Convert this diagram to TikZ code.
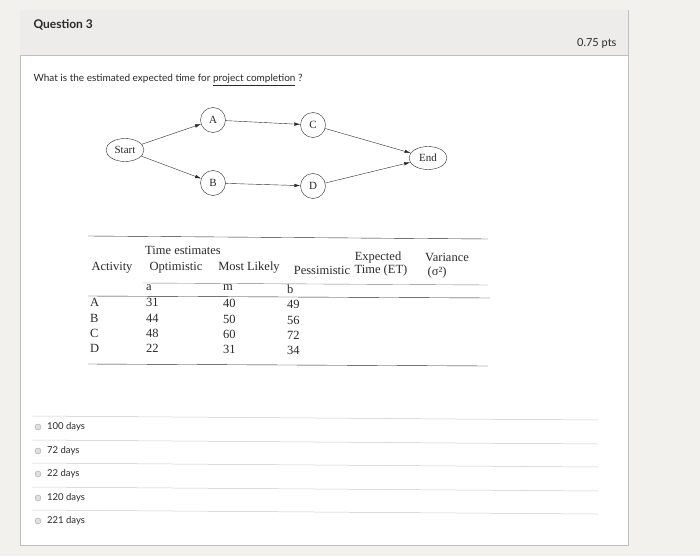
\documentclass[tikz,border=0pt]{standalone}
\usepackage{fontspec}
\setmainfont{Lato}
\newfontfamily\tms{Liberation Serif}
\usetikzlibrary{shapes.geometric,arrows.meta}
\definecolor{bg}{HTML}{F2F1EE}
\definecolor{hdr}{HTML}{EDECEA}
\definecolor{txt}{HTML}{2A2A2A}
\begin{document}
\begin{tikzpicture}[x=1pt,y=-1pt,
 ev/.style={draw=txt,circle,minimum size=25pt,inner sep=0pt,font=\tms\fontsize{11}{11}\selectfont,text=txt},
 eel/.style={draw=txt,ellipse,minimum width=38pt,minimum height=23pt,inner sep=0pt,font=\tms\fontsize{11}{11}\selectfont,text=txt},
 arr/.style={draw=txt,-{Latex[length=6pt,width=3.5pt]}},
 tb/.style={font=\tms\fontsize{12.5}{13}\selectfont,text=txt,inner sep=0pt},
 opt/.style={font=\fontsize{9.5}{10}\selectfont,text=txt,anchor=west,inner sep=0pt},
 rad/.style={draw=gray!70,fill=gray!25,circle,minimum size=6pt,inner sep=0pt},
 sep/.style={draw=gray!40,line width=0.5pt}]
\useasboundingbox (0,0) rectangle (700,556);
\fill[bg] (0,0) rectangle (700,556);
\fill[white] (20,10) rectangle (628,545);
\draw[gray!50] (20,10) rectangle (628,545);
\fill[hdr] (20,10) rectangle (628,55);
\draw[gray!50] (20,55) -- (628,55);
\node[font=\bfseries\fontsize{12}{13}\selectfont,text=txt,anchor=west] (q) at (30,25) {Question 3};
\node[font=\fontsize{11}{12}\selectfont,text=txt,anchor=east] (pts) at (620,43) {0.75 pts};
\node[font=\fontsize{10}{11}\selectfont,text=txt,anchor=west] (qt) at (30,80) {What is the estimated expected time for \underline{project completion} ?};
% network
\node[eel] (S) at (125,150) {Start};
\node[ev] (A) at (213,120) {A};
\node[ev] (C) at (313,125) {C};
\node[ev] (B) at (213,183) {B};
\node[ev] (D) at (313,186) {D};
\node[eel] (E) at (428,158) {End};
\draw[arr] (S) -- (A); \draw[arr] (S) -- (B);
\draw[arr] (A) -- (C); \draw[arr] (B) -- (D);
\draw[arr] (C) -- (E); \draw[arr] (D) -- (E);
% table
\draw[txt,line width=0.4pt] (88,236) -- (488,239);
\draw[txt,line width=0.4pt] (88,296) -- (490,298);
\draw[txt,line width=0.4pt] (88,364) -- (488,366);
\draw[gray] (143,283) -- (488,285);
\node[tb,anchor=west] (te) at (145,250) {Time estimates};
\node[tb] (ex) at (378,257) {Expected};
\node[tb] (va) at (447,257) {Variance};
\node[tb] (ac) at (112,268) {Activity};
\node[tb] (op) at (176,268) {Optimistic};
\node[tb] (ml) at (249,268) {Most Likely};
\node[tb] (pe) at (322,270) {Pessimistic};
\node[tb] (et) at (381,270) {Time (ET)};
\node[tb] (vs) at (437,272) {(σ²)};
\node[tb,anchor=west] (ha) at (146,288) {a};
\node[tb,anchor=west] (hm) at (223,288) {m};
\node[tb,anchor=west] (hb) at (287,289) {b};
\foreach \r/\a/\m/\b/\y in {A/31/40/49/302,B/44/50/56/318,C/48/60/72/333,D/22/31/34/348}{
 \node[tb,anchor=west] (r\r) at (90,\y) {\r};
 \node[tb,anchor=west] (a\r) at (146,\y) {\a};
 \node[tb,anchor=west] (m\r) at (223,\y+1) {\m};
 \node[tb,anchor=west] (b\r) at (287,\y+2) {\b};
}
% options
\foreach \t/\y [count=\i] in {100 days/427,72 days/451,22 days/474,120 days/498,221 days/521}{
 \draw[sep] (32,\y-11) -- (598,\y-7);
 \node[rad] (o\i) at (38,\y) {};
 \node[opt] (t\i) at (47,\y) {\t};
}
\end{tikzpicture}
\end{document}
